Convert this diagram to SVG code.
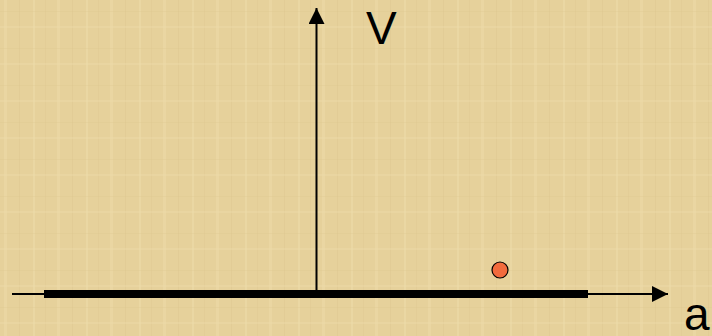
<svg xmlns="http://www.w3.org/2000/svg" width="712" height="336" viewBox="0 0 712 336">
  <defs>
    <style>
      .axis { stroke: #000; stroke-width: 2; fill: none; }
      .bar { stroke: #000; stroke-width: 8; fill: none; }
      .lbl { font-family: "Liberation Sans", Arial, sans-serif; font-size: 46px; fill: #000; }
      .pt { fill: #f26b3d; stroke: #000; stroke-width: 1.2; }
    </style>
    <marker id="arr" viewBox="0 0 16 16" refX="16" refY="8" markerWidth="16" markerHeight="16" markerUnits="userSpaceOnUse" orient="auto">
      <path d="M0,0 L16,8 L0,16 Z" fill="#000"/>
    </marker>
    <pattern id="tex" width="53" height="37" patternUnits="userSpaceOnUse">
      <rect width="53" height="37" fill="#e6d19b"/>
      <rect x="4" width="3" height="37" fill="#eedba9" opacity="0.5"/>
      <rect x="19" width="1" height="37" fill="#d9c28b" opacity="0.35"/>
      <rect x="33" width="2" height="37" fill="#efdeae" opacity="0.45"/>
      <rect x="45" width="1" height="37" fill="#dcc68f" opacity="0.3"/>
      <rect y="11" width="53" height="1" fill="#dac38d" opacity="0.25"/>
      <rect y="26" width="53" height="2" fill="#eedcab" opacity="0.35"/>
    </pattern>
  </defs>
  <rect width="712" height="336" fill="url(#tex)"/>
  <g id="connectors">
    <line class="axis" x1="12" y1="294" x2="668" y2="294" marker-end="url(#arr)"/>
    <line class="axis" x1="316.5" y1="294" x2="316.5" y2="8" marker-end="url(#arr)"/>
    <line class="bar" x1="44" y1="294" x2="588" y2="294"/>
  </g>
  <g id="label-v">
    <text class="lbl" x="366" y="44">V</text>
  </g>
  <g id="label-a">
    <text class="lbl" x="684" y="330">a</text>
  </g>
  <g id="point">
    <circle class="pt" cx="500" cy="270" r="8"/>
  </g>
</svg>
